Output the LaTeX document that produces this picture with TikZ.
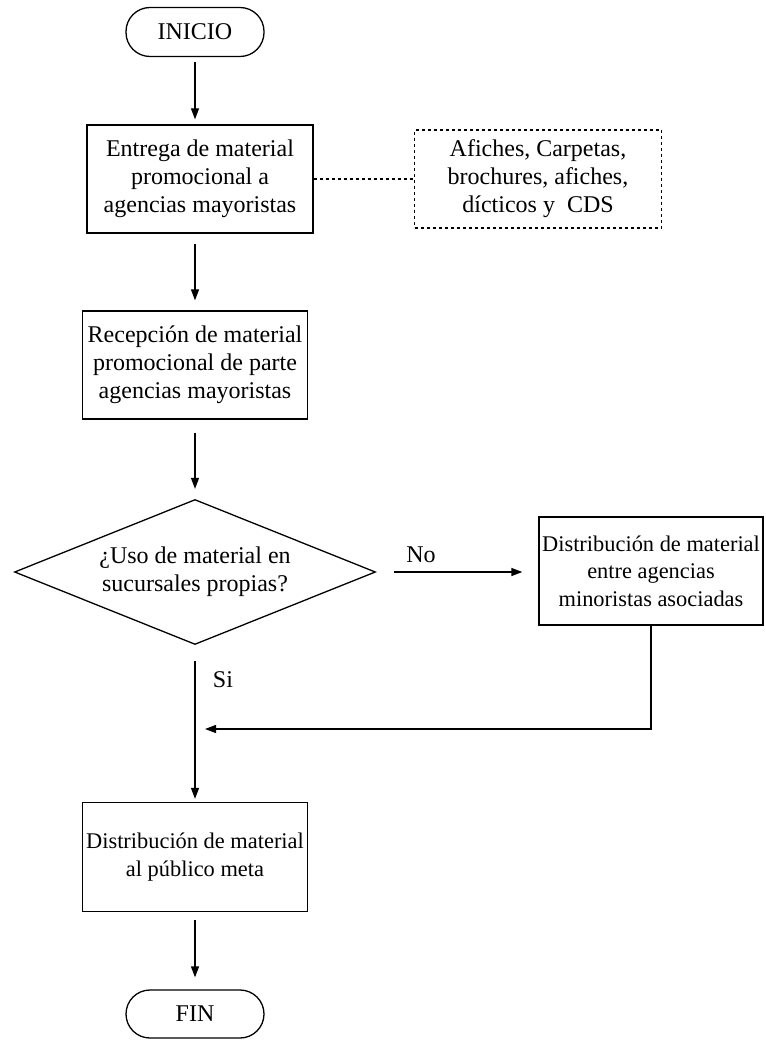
\documentclass[tikz,border=0pt]{standalone}
\usepackage{fontspec}
\setmainfont{Liberation Serif}
\usetikzlibrary{shapes.geometric,arrows.meta}

\begin{document}
\begin{tikzpicture}[x=1pt,y=-1pt,line width=1.3pt,
	font=\fontsize{24}{28}\selectfont]
	\tikzstyle{terminal}=[draw=black,rounded corners=24pt,minimum width=138pt,minimum height=49pt,inner sep=0pt]
	\tikzstyle{process}=[draw=black,minimum width=225pt,minimum height=108pt,inner sep=0pt,align=center]
	\tikzstyle{narrow}=[font=\fontsize{22.4}{27.5}\selectfont]
	\tikzstyle{note}=[draw=black,dashed,minimum width=247pt,minimum height=98pt,inner sep=0pt,align=center]
	\tikzstyle{decision}=[draw=black,diamond,aspect=2.49,minimum width=361pt,minimum height=145pt,inner sep=0pt,align=center]
	\tikzstyle{flow}=[-{Triangle[length=11pt,width=8pt]}]
	\useasboundingbox (0,0) rectangle (765,1040);
	\node[terminal](inicio) at (195,32) {INICIO};
	\node[process,minimum width=226pt](entrega) at (200,179) {Entrega de material\\promocional a\\agencias mayoristas};
	\node[note](material) at (538,179) {Afiches, Carpetas,\\brochures, afiches,\\dícticos y \ CDS};
	\node[process](recepcion) at (195,365) {Recepción de material\\promocional de parte\\agencias mayoristas};
	\node[decision](uso) at (195,572) {¿Uso de material en\\sucursales propias?};
	\node[process,narrow,minimum width=224pt](minoristas) at (651,571) {Distribución de material\\entre agencias\\minoristas asociadas};
	\node[process,narrow,minimum height=109pt](publico) at (195,857) {Distribución de material\\al público meta};
	\node[terminal,minimum height=48pt](fin) at (195,1014) {FIN};
	\node(no) at (421,555) {No};
	\node[anchor=west](si) at (209,680) {Si};
	\coordinate (union) at (205,729);
	\draw[flow,shorten <=5pt,shorten >=5pt] (inicio) -- (inicio |- entrega.north);
	\draw[dashed] (entrega) -- (material);
	\draw[flow,shorten <=10pt,shorten >=10pt] (entrega.south -| recepcion) -- (recepcion);
	\draw[flow,shorten <=13pt,shorten >=10pt] (recepcion) -- (uso);
	\draw[flow,shorten <=18pt,shorten >=16pt] (uso) -- (minoristas.west |- uso);
	\draw[flow] (minoristas) |- (union);
	\draw[flow,shorten <=16pt,shorten >=3pt] (uso) -- (publico);
	\draw[flow,shorten <=8pt,shorten >=12pt] (publico) -- (fin);
\end{tikzpicture}
\end{document}
